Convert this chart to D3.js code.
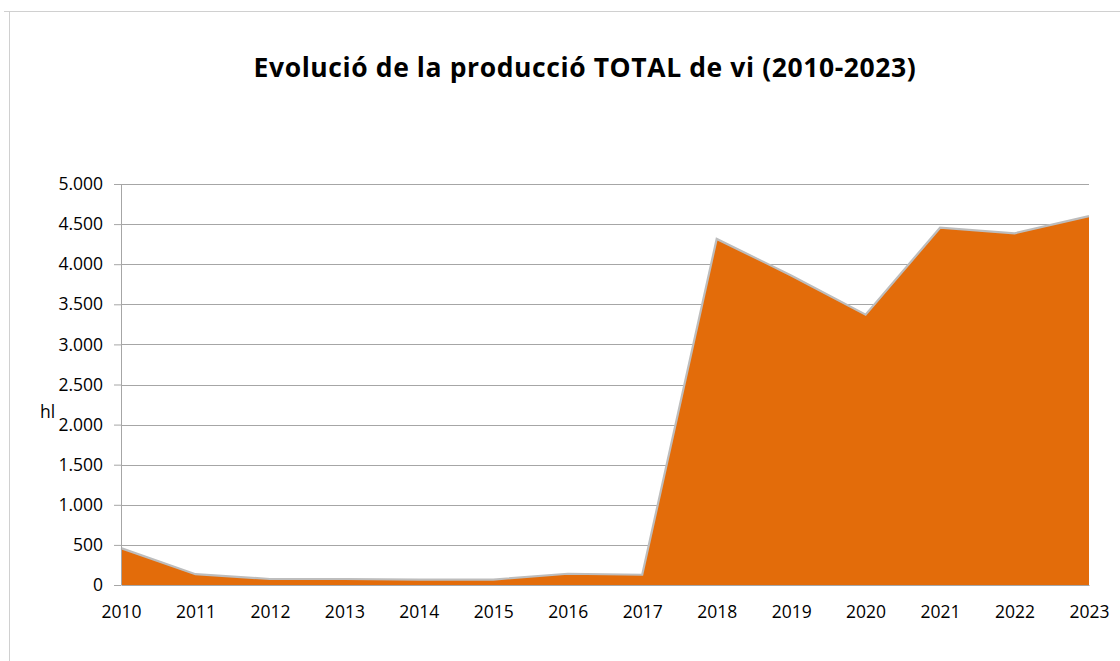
<!DOCTYPE html>
<html>
<head>
<meta charset="utf-8">
<script src="https://cdn.jsdelivr.net/npm/d3@7"></script>
<style>
  body { margin: 0; background: #fff; }
  text { font-family: "Open Sans", "Noto Sans", sans-serif; }
</style>
</head>
<body>
<svg id="chart" width="1120" height="661"></svg>
<script>
// years on the x axis
var years = [2010, 2011, 2012, 2013, 2014, 2015, 2016, 2017, 2018, 2019, 2020, 2021, 2022, 2023];
// total wine production, hl
var production = [460, 135, 75, 75, 68, 68, 140, 128, 4315, 3860, 3370, 4455, 4385, 4600];
var yTicks = [0, 500, 1000, 1500, 2000, 2500, 3000, 3500, 4000, 4500, 5000];
var title = "Evolució de la producció TOTAL de vi (2010-2023)";
var unit = "hl";

var svg = d3.select("#chart");
var margin = {left: 121, right: 31, top: 184, bottom: 76};
var width = 1120 - margin.left - margin.right;
var height = 661 - margin.top - margin.bottom;

var data = years.map(function(y, i){ return {year: y, value: production[i]}; });

// outer frame (only top and left edges visible)
svg.append("path")
  .attr("d", "M4,11.5 H1120 M9.5,11 V661")
  .attr("stroke", "#d0d0d0").attr("fill", "none");

svg.append("text")
  .attr("x", 585).attr("y", 77)
  .attr("text-anchor", "middle")
  .style("font-size", "26.5px").style("font-weight", "bold").style("letter-spacing", "0.6px")
  .attr("fill", "#000")
  .text(title);

var g = svg.append("g").attr("transform", "translate(" + margin.left + "," + margin.top + ")");

var x = d3.scaleLinear().domain([years[0], years[years.length - 1]]).range([0, width]);
var y = d3.scaleLinear().domain([0, 5000]).range([height, 0]);

var fmt = function(d){ return d3.format(",")(d).replace(/,/g, "."); };

// gridlines
g.append("g").selectAll("line").data(yTicks.filter(d => d > 0)).enter().append("line")
  .attr("x1", 0).attr("x2", width)
  .attr("y1", d => Math.round(y(d)) + 0.5).attr("y2", d => Math.round(y(d)) + 0.5)
  .attr("stroke", "#a6a6a6");

var area = d3.area().x(d => x(d.year)).y0(y(0)).y1(d => y(d.value));
var line = d3.line().x(d => x(d.year)).y(d => y(d.value));

g.append("path").datum(data).attr("d", area).attr("fill", "#e36c0a");
g.append("path").datum(data).attr("d", line)
  .attr("fill", "none").attr("stroke", "#bdbdbd").attr("stroke-width", 2.2);

// y axis
var yAxis = g.append("g")
  .call(d3.axisLeft(y).tickValues(yTicks).tickFormat(fmt).tickSize(7).tickPadding(11));
yAxis.select(".domain").attr("stroke", "#a6a6a6").attr("d", "M0.5," + height + "V0");
yAxis.selectAll(".tick line").attr("stroke", "#a6a6a6");
yAxis.selectAll("text").style("font-size", "17.5px").attr("fill", "#000");

// x axis
var xAxis = g.append("g").attr("transform", "translate(0," + height + ")")
  .call(d3.axisBottom(x).tickValues(years).tickFormat(d3.format("d")).tickSize(0).tickPadding(21));
xAxis.select(".domain").attr("stroke", "#a6a6a6");
xAxis.selectAll("text").style("font-size", "17.5px").attr("fill", "#000");

svg.append("text")
  .attr("x", 40).attr("y", 418)
  .style("font-size", "17.5px").attr("fill", "#000")
  .text(unit);
</script>
</body>
</html>
